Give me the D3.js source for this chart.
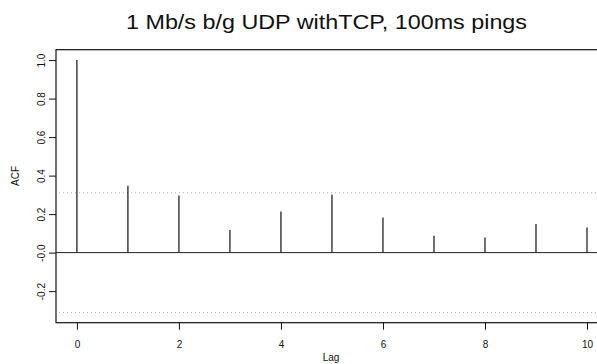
<!DOCTYPE html>
<html><head><meta charset="utf-8">
<script src="https://cdn.jsdelivr.net/npm/d3@7"></script>
<style>body{margin:0;background:#fff}svg{display:block}text{font-family:"Liberation Sans",Arial,sans-serif}</style>
</head><body>
<script>
const lags = [0,1,2,3,4,5,6,7,8,9,10];
const acf = [1.0,0.347,0.297,0.118,0.213,0.301,0.182,0.088,0.078,0.149,0.130];
const ci = 0.311;
const xTicks = [0,2,4,6,8,10];
const yTicks = [-0.2,0.0,0.2,0.4,0.6,0.8,1.0];
const yTickLabels = ["-0.2","-0.0","0.2","0.4","0.6","0.8","1.0"];
const title = "1 Mb/s b/g UDP withTCP, 100ms pings";

(function(){
const W=597,H=364;
const pL=56, pR=607.4, pT=49.7, pB=322.7;
const svg=d3.select("body").append("svg").attr("width",W).attr("height",H);
const x=d3.scaleLinear().domain([-0.41,10.4]).range([pL,pR]);
const y=d3.scaleLinear().domain([-0.364,1.054]).range([pB,pT]);

svg.selectAll("line.ci").data([ci,-ci]).enter().append("line").attr("class","ci")
  .attr("x1",pL+3).attr("x2",pR).attr("y1",d=>y(d)).attr("y2",d=>y(d))
  .attr("stroke","#b0b0b0").attr("stroke-width",1).attr("stroke-dasharray","1,3");
svg.append("line").attr("x1",pL).attr("x2",pR).attr("y1",y(0)).attr("y2",y(0))
  .attr("stroke","#222").attr("stroke-width",1);
svg.selectAll("line.bar").data(lags).enter().append("line").attr("class","bar")
  .attr("x1",d=>x(d)).attr("x2",d=>x(d)).attr("y1",y(0)).attr("y2",(d,i)=>y(acf[i]))
  .attr("stroke","#111").attr("stroke-width",1.2);
svg.append("rect").attr("x",pL).attr("y",pT).attr("width",pR-pL).attr("height",pB-pT)
  .attr("fill","none").attr("stroke","#111").attr("stroke-width",1.2);

const xa=svg.append("g").attr("transform",`translate(0,${pB})`)
  .call(d3.axisBottom(x).tickValues(xTicks).tickSize(7).tickPadding(11).tickFormat(d3.format("d")));
xa.select(".domain").remove();
xa.selectAll("line").attr("stroke","#111");
xa.selectAll("text").attr("font-size",10).attr("fill","#111").attr("font-family","Liberation Sans, Arial, sans-serif");

const ya=svg.append("g").attr("transform",`translate(${pL},0)`)
  .call(d3.axisLeft(y).tickValues(yTicks).tickSize(7).tickFormat((d,i)=>yTickLabels[i]));
ya.select(".domain").remove();
ya.selectAll("line").attr("stroke","#111");
ya.selectAll(".tick text").attr("font-size",10).attr("fill","#111").attr("font-family","Liberation Sans, Arial, sans-serif")
  .attr("x",null).attr("dy",null).attr("text-anchor","middle")
  .attr("transform","translate(-11,0) rotate(-90)");

svg.append("text").attr("x",331).attr("y",361).attr("text-anchor","middle").attr("font-size",10).attr("fill","#111").text("Lag");
svg.append("text").attr("transform","translate(19,176) rotate(-90)").attr("text-anchor","middle").attr("font-size",10).attr("fill","#111").text("ACF");
svg.append("text").attr("x",126).attr("y",29.3).attr("font-size",19.5).attr("fill","#111")
  .attr("textLength",401).attr("lengthAdjust","spacingAndGlyphs").text(title);
})();
</script>
</body></html>
